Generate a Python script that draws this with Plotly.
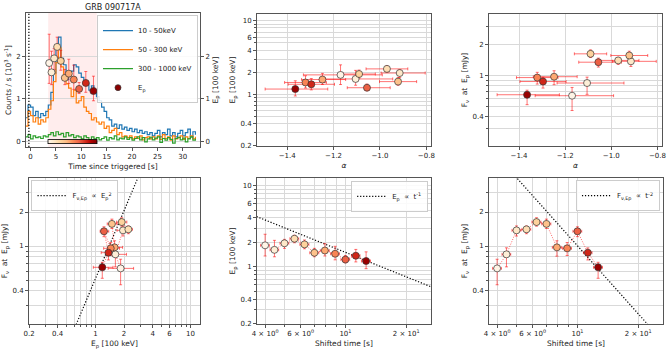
import numpy as np
import plotly.graph_objects as go

# light curve, counts / s [10^3 s^-1], 0.5 s bins from -1 s
lc_t = np.arange(-1.0, 33.0, 0.5)
lc_10_50 = [0.55, 0.85, 0.80, 0.60, 0.70, 0.55, 0.65, 0.60, 0.70, 0.85,
            1.15, 1.60, 2.20, 2.45, 1.95, 1.80, 1.45, 1.55, 1.65, 1.80,
            1.75, 1.60, 1.50, 1.40, 1.35, 1.20, 1.30, 1.15, 1.05, 0.95,
            0.80, 0.70, 0.55, 0.50, 0.35, 0.40, 0.30, 0.38, 0.28, 0.33,
            0.25, 0.30, 0.22, 0.28, 0.20, 0.25, 0.18, 0.22, 0.15, 0.20,
            0.12, 0.18, 0.25, 0.10, 0.20, 0.15, 0.28, 0.12, 0.20, 0.10,
            0.18, 0.25, 0.12, 0.20, 0.28, 0.10, 0.22, 0.15]
lc_50_300 = [0.35, 0.70, 0.60, 0.45, 0.55, 0.40, 0.50, 0.45, 0.55, 0.75,
             0.95, 1.40, 1.85, 2.20, 1.75, 1.50, 1.35, 1.25, 1.05, 1.20,
             0.90, 0.95, 1.05, 0.80, 0.70, 0.65, 0.50, 0.55, 0.45, 0.40,
             0.45, 0.30, 0.35, 0.20, 0.25, 0.30, 0.15, 0.20, 0.10, 0.12,
             0.08, 0.12, 0.05, 0.10, 0.06, 0.12, 0.03, 0.08, 0.10, 0.05,
             0.10, 0.05, 0.12, 0.04, 0.15, 0.06, 0.10, 0.02, 0.12, 0.05,
             0.08, 0.12, 0.04, 0.10, 0.06, 0.12, 0.05, 0.10]
lc_300_1000 = [0.10, 0.15, 0.05, 0.12, 0.08, 0.10, 0.06, 0.12, 0.10, 0.15,
               0.20, 0.12, 0.22, 0.15, 0.18, 0.10, 0.20, 0.12, 0.15, 0.08,
               0.12, 0.10, 0.05, 0.12, 0.08, 0.02, 0.10, 0.05, 0.08, 0.03,
               0.06, 0.10, 0.02, 0.08, 0.05, 0.12, 0.03, 0.07, 0.05, 0.10,
               0.04, 0.08, 0.02, 0.06, 0.10, 0.03, 0.08, -0.02, 0.05, 0.09,
               0.03, 0.07, 0.10, -0.03, 0.06, 0.02, 0.08, 0.04, -0.05, 0.06,
               0.09, 0.03, 0.07, -0.02, 0.05, 0.10, 0.02, 0.06]

# time-resolved spectral fits
t_trig = [3.67, 4.13, 4.65, 5.24, 5.96, 6.75, 7.54, 8.52, 9.57, 10.89, 12.40]
t_shift = [4.00, 4.45, 4.99, 5.59, 6.27, 7.02, 7.91, 8.89, 10.00, 11.26, 12.66]
t_err = [0.20, 0.22, 0.25, 0.28, 0.32, 0.36, 0.40, 0.45, 0.50, 0.55, 0.65]
ep = [1.84, 1.62, 1.95, 2.22, 1.89, 1.49, 1.59, 1.45, 1.23, 1.37, 1.18]
ep_lo = [0.48, 0.29, 0.26, 0.24, 0.22, 0.16, 0.23, 0.23, 0.11, 0.22, 0.23]
ep_hi = [0.68, 0.50, 0.23, 0.23, 0.25, 0.20, 0.34, 0.34, 0.15, 0.27, 0.35]
fnu = [0.634, 0.844, 1.376, 1.405, 1.63, 1.57, 0.973, 0.954, 1.35, 0.873, 0.648]
fnu_lo = [0.18, 0.19, 0.15, 0.12, 0.13, 0.14, 0.16, 0.13, 0.14, 0.12, 0.13]
fnu_hi = [0.13, 0.12, 0.13, 0.10, 0.15, 0.16, 0.14, 0.12, 0.13, 0.09, 0.07]
alpha = [-1.17, -1.105, -0.915, -0.97, -1.09, -0.922, -1.248, -1.321, -1.056, -1.296, -1.365]
alpha_lo = [0.16, 0.13, 0.08, 0.09, 0.07, 0.08, 0.09, 0.09, 0.085, 0.10, 0.13]
alpha_hi = [0.18, 0.16, 0.11, 0.09, 0.07, 0.08, 0.10, 0.09, 0.10, 0.10, 0.14]

# power-law guide lines (end points)
pl_ep2_x = [0.5, 3.5]
pl_ep2_y = [0.1285, 6.30]
pl_t1_x = [3.0, 30.0]
pl_t1_y = [5.03, 0.503]
pl_t2_x = [4.5, 25.0]
pl_t2_y = [4.96, 0.161]

# log-axis ticks: labelled (major) and grid-only (minor)
ep_ticks = [0.2, 0.4, 1, 2, 4, 6, 10]
ep_minor = [0.3, 0.5, 0.6, 0.7, 0.8, 0.9, 3, 5, 7, 8, 9]
f_ticks = [0.4, 1, 2]
f_minor = [0.3, 0.5, 0.6, 0.7, 0.8, 0.9, 3]
t_ticks = [4, 6, 10, 20]
t_text = ['4 × 10<sup>0</sup>', '6 × 10<sup>0</sup>', '10<sup>1</sup>', '2 × 10<sup>1</sup>']
t_minor = [5, 7, 8, 9]

err_col = 'rgba(255,0,0,0.55)'
t_lo, t_hi = 3.47, 13.05
FONT = 'DejaVu Sans'
GRID = '#d9d9d9'


def mk():
    return dict(size=7, color=t_trig, colorscale='OrRd', cmin=t_lo, cmax=t_hi,
                line=dict(color='#333', width=0.7))


def ex(a, am):
    return dict(type='data', array=a, arrayminus=am, color=err_col, thickness=1, width=1.5)


fig = go.Figure()

# light curve
for y, name, col in [(lc_10_50, '10 - 50keV', '#1f77b4'),
                     (lc_50_300, '50 - 300 keV', '#ff7f0e'),
                     (lc_300_1000, '300 - 1000 keV', '#2ca02c')]:
    fig.add_trace(go.Scatter(x=lc_t, y=y, mode='lines', line=dict(color=col, width=1.2, shape='hv'),
                             name=name, xaxis='x', yaxis='y', legend='legend'))

m = mk()
m.update(showscale=True, colorbar=dict(orientation='h', x=0.1082, xanchor='center', y=0.5966,
                                       yanchor='middle', len=0.0731, lenmode='fraction', thickness=4,
                                       showticklabels=False, ticks='', outlinewidth=0.8,
                                       outlinecolor='black', xpad=0, ypad=0))
fig.add_trace(go.Scatter(x=t_trig, y=ep, mode='markers', marker=m, showlegend=False,
                         error_y=ex(ep_hi, ep_lo), error_x=ex(t_err, t_err),
                         xaxis='x', yaxis='y7'))
fig.add_trace(go.Scatter(x=[None], y=[None], mode='markers', name='E<sub>p</sub>',
                         marker=dict(size=6, color='#8b0000', line=dict(color='#333', width=0.7)),
                         xaxis='x', yaxis='y7', legend='legend'))

# alpha - Ep
fig.add_trace(go.Scatter(x=alpha, y=ep, mode='markers', marker=mk(), showlegend=False,
                         error_x=ex(alpha_hi, alpha_lo), error_y=ex(ep_hi, ep_lo),
                         xaxis='x2', yaxis='y2'))
# alpha - Fnu
fig.add_trace(go.Scatter(x=alpha, y=fnu, mode='markers', marker=mk(), showlegend=False,
                         error_x=ex(alpha_hi, alpha_lo), error_y=ex(fnu_hi, fnu_lo),
                         xaxis='x3', yaxis='y3'))

dot_red = dict(color='rgba(255,0,0,0.6)', width=1, dash='1px,1.5px')
guide = dict(color='black', width=1.2, dash='1.2px,1.8px')
# Ep - Fnu
fig.add_trace(go.Scatter(x=pl_ep2_x, y=pl_ep2_y, mode='lines', line=guide,
                         name='F<sub>ν,Ep</sub>  ∝  E<sub>p</sub><sup>2</sup>', xaxis='x4', yaxis='y4',
                         legend='legend2'))
fig.add_trace(go.Scatter(x=ep, y=fnu, mode='lines+markers', marker=mk(), line=dot_red, showlegend=False,
                         error_x=ex(ep_hi, ep_lo), error_y=ex(fnu_hi, fnu_lo),
                         xaxis='x4', yaxis='y4'))
# t - Ep
fig.add_trace(go.Scatter(x=pl_t1_x, y=pl_t1_y, mode='lines', line=guide,
                         name='E<sub>p</sub>  ∝  t<sup>-1</sup>', xaxis='x5', yaxis='y5', legend='legend3'))
fig.add_trace(go.Scatter(x=t_shift, y=ep, mode='lines+markers', marker=mk(), line=dot_red, showlegend=False,
                         error_x=ex(t_err, t_err), error_y=ex(ep_hi, ep_lo),
                         xaxis='x5', yaxis='y5'))
# t - Fnu
fig.add_trace(go.Scatter(x=pl_t2_x, y=pl_t2_y, mode='lines', line=guide,
                         name='F<sub>ν,Ep</sub>  ∝  t<sup>-2</sup>', xaxis='x6', yaxis='y6', legend='legend4'))
fig.add_trace(go.Scatter(x=t_shift, y=fnu, mode='lines+markers', marker=mk(), line=dot_red, showlegend=False,
                         error_x=ex(t_err, t_err), error_y=ex(fnu_hi, fnu_lo),
                         xaxis='x6', yaxis='y6'))


def ax(minor_vals=None, **kw):
    d = dict(showline=True, mirror=True, linecolor='#555', linewidth=1, ticks='outside', ticklen=3,
             tickcolor='#555', tickfont=dict(size=7, color='#222'), gridcolor=GRID, gridwidth=1,
             zeroline=False, title_font=dict(size=7.5, color='#222'), title_standoff=3,
             automargin=False)
    if minor_vals is not None:
        d['minor'] = dict(tickmode='array', tickvals=minor_vals, showgrid=True, gridcolor=GRID,
                          gridwidth=1, ticks='outside', ticklen=2, tickcolor='#555')
    d.update(kw)
    return d


S = '\u00a0'
ep_lab = 'E<sub>p</sub> [100 keV]'
f_lab = 'F<sub>ν</sub>' + S * 2 + 'at' + S * 2 + 'E<sub>p</sub> [mJy]'
top_y = [0.5852, 0.9602]
bot_y = [0.0795, 0.4943]
ep_rng = [np.log10(0.198), np.log10(12.4)]
f_rng = [np.log10(0.204), np.log10(4.0)]
t_rng = [0.562, 1.424]

leg = dict(font=dict(size=7, family=FONT, color='#222'), bgcolor='rgba(255,255,255,0.85)',
           bordercolor='#ccc', borderwidth=1, tracegroupgap=0, itemwidth=30)

fig.update_layout(
    width=670, height=352, margin=dict(l=0, r=0, t=0, b=0, autoexpand=False),
    paper_bgcolor='white', plot_bgcolor='white',
    font=dict(family=FONT, size=7, color='#222'),
    xaxis=ax(domain=[0.0388, 0.2985], anchor='y', range=[-0.9, 33.4], tickvals=[0, 5, 10, 15, 20, 25, 30],
             showgrid=False, title_text='Time since triggered [s]'),
    yaxis=ax(domain=[0.5824, 0.9631], anchor='x', range=[-0.14, 3.02], tickvals=[0, 1, 2],
             title_text='Counts / s [10<sup>3</sup> s<sup>-1</sup>]'),
    yaxis7=ax(overlaying='y', side='right', anchor='x', range=[-0.14, 3.02], tickvals=[0, 1, 2],
              showgrid=False, title_text=ep_lab),
    xaxis2=ax(domain=[0.3836, 0.6433], anchor='y2', range=[-1.53, -0.78], tickvals=[-1.4, -1.2, -1.0, -0.8],
              tickformat='.1f', title_text='<i>α</i>'),
    yaxis2=ax(ep_minor, domain=top_y, anchor='x2', type='log', range=ep_rng, tickvals=ep_ticks,
              ticktext=[str(v) for v in ep_ticks], title_text=ep_lab),
    xaxis3=ax(domain=[0.7299, 0.9881], anchor='y3', range=[-1.53, -0.78], tickvals=[-1.4, -1.2, -1.0, -0.8],
              tickformat='.1f', title_text='<i>α</i>'),
    yaxis3=ax(f_minor, domain=top_y, anchor='x3', type='log', range=f_rng, tickvals=f_ticks,
              ticktext=[str(v) for v in f_ticks], title_text=f_lab),
    xaxis4=ax(ep_minor, domain=[0.0433, 0.2985], anchor='y4', type='log', range=[np.log10(0.2), 1.10],
              tickvals=ep_ticks, ticktext=[str(v) for v in ep_ticks], title_text=ep_lab),
    yaxis4=ax(f_minor, domain=bot_y, anchor='x4', type='log', range=f_rng, tickvals=f_ticks,
              ticktext=[str(v) for v in f_ticks], title_text=f_lab),
    xaxis5=ax(t_minor, domain=[0.3836, 0.6433], anchor='y5', type='log', range=t_rng, tickvals=t_ticks,
              ticktext=t_text, title_text='Shifted time [s]'),
    yaxis5=ax(ep_minor, domain=bot_y, anchor='x5', type='log', range=ep_rng, tickvals=ep_ticks,
              ticktext=[str(v) for v in ep_ticks], title_text=ep_lab),
    xaxis6=ax(t_minor, domain=[0.7299, 0.9896], anchor='y6', type='log', range=t_rng, tickvals=t_ticks,
              ticktext=t_text, title_text='Shifted time [s]'),
    yaxis6=ax(f_minor, domain=bot_y, anchor='x6', type='log', range=f_rng, tickvals=f_ticks,
              ticktext=[str(v) for v in f_ticks], title_text=f_lab),
    legend=dict(leg, x=0.2955, xanchor='right', y=0.957, yanchor='top'),
    legend2=dict(leg, x=0.047, xanchor='left', y=0.488, yanchor='top'),
    legend3=dict(leg, x=0.639, xanchor='right', y=0.486, yanchor='top'),
    legend4=dict(leg, x=0.985, xanchor='right', y=0.488, yanchor='top'),
    shapes=[
        dict(type='rect', xref='x', yref='y domain', x0=t_lo, x1=t_hi, y0=0, y1=1,
             fillcolor='rgba(255,0,0,0.07)', line=dict(width=0), layer='below'),
        dict(type='line', xref='x', yref='y domain', x0=-0.33, x1=-0.33, y0=0, y1=1,
             line=dict(color='black', width=1.2, dash='1.2px,1.8px')),
    ],
    annotations=[dict(text='GRB 090717A', x=0.1687, y=0.980, xref='paper', yref='paper',
                      xanchor='center', yanchor='middle', showarrow=False,
                      font=dict(size=8, color='#222'))],
)

# the page body has a default 8px margin; drop it so the figure sits at the window origin
fig.write_html('out.html', config={'displayModeBar': False},
               post_script="document.body.style.margin='0';")
